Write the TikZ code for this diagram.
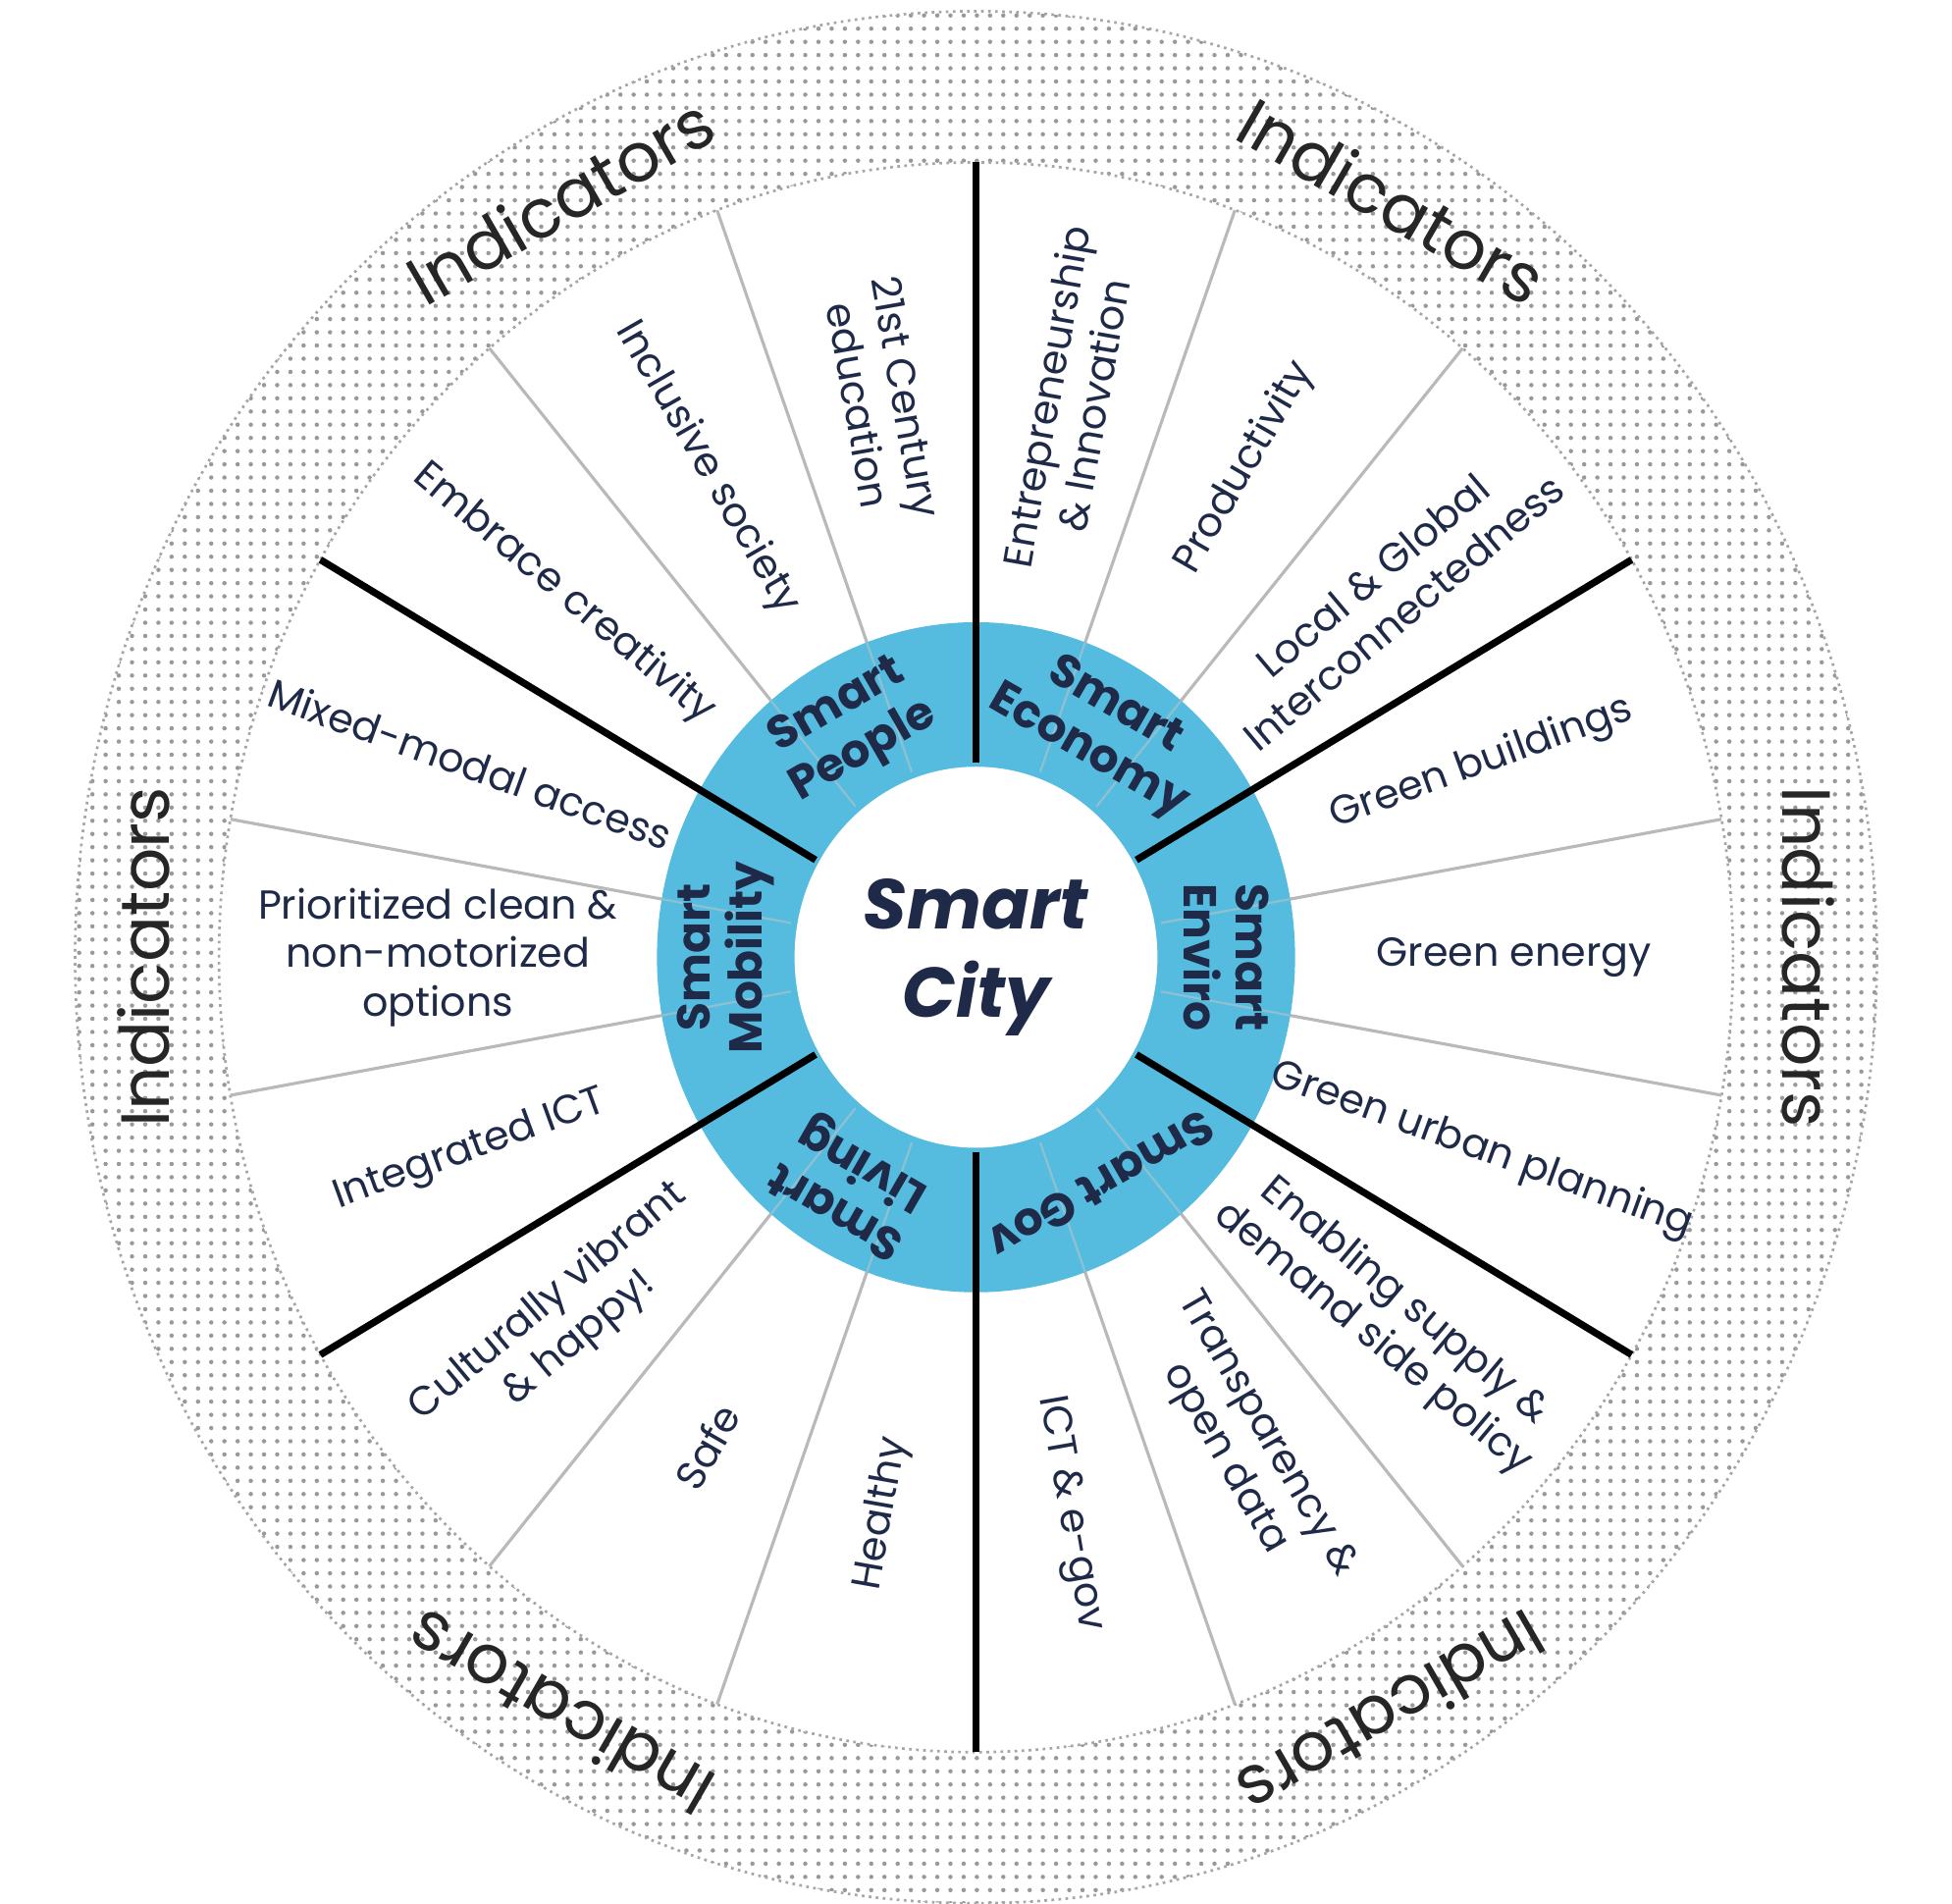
\documentclass[tikz,border=0pt]{standalone}
\usepackage{fontspec}
\setmainfont{Poppins}
\usetikzlibrary{patterns}
\definecolor{ringblue}{HTML}{55BCE0}
\definecolor{navy}{HTML}{1E2A48}
\tikzset{
  item/.style={font=\fontsize{9.2}{11}\selectfont, text=navy, align=center, inner sep=1pt},
  ringlbl/.style={font=\bfseries\fontsize{10.5}{12}\selectfont, text=navy, align=center, inner sep=1pt},
  indic/.style={font=\fontsize{15.5}{18}\selectfont, text=black!85, inner sep=1pt},
  thin/.style={draw=gray!55, line width=0.7pt},
  thick/.style={draw=black, line width=1.6pt},
  border/.style={draw=gray!70, densely dotted, line width=0.6pt}
}
\begin{document}
\begin{tikzpicture}[x=0.01cm,y=0.01cm]
\useasboundingbox (0,0) rectangle (1560,1521);
\begin{scope}[shift={(780,756)}, yscale=1.05]
  \fill[pattern=dots, pattern color=gray!80] (0,0) ellipse [x radius=720, y radius=720];
  \draw[border] (0,0) circle [radius=720];
  \fill[white] (0,0) circle [radius=605];
  \draw[border] (0,0) circle [radius=605];
  % thin dividers
  \foreach \a in {70,50,10,-10,-50,-70,-110,-130,170,190,110,130}{
    \coordinate (ti\a) at ({250*cos(\a)},{250*sin(\a)});
    \coordinate (to\a) at ({605*cos(\a)},{605*sin(\a)});
    \draw[thin] (ti\a) -- (to\a);
  }
  % ring
  \fill[ringblue] (0,0) circle [radius=255];
  \foreach \a in {70,50,10,-10,-50,-70,-110,-130,170,190,110,130}{
    \draw[ringblue!80!black!60, line width=0.5pt] ({150*cos(\a)},{150*sin(\a)}) -- ({255*cos(\a)},{255*sin(\a)});
  }
  \fill[white] (0,0) circle [radius=145];
  % thick dividers
  \foreach \a in {90,30,-30,-90,210,150}{
    \coordinate (bi\a) at ({148*cos(\a)},{148*sin(\a)});
    \coordinate (bo\a) at ({605*cos(\a)},{605*sin(\a)});
    \draw[thick] (bi\a) -- (bo\a);
  }
  \node[font=\bfseries\itshape\fontsize{16}{20}\selectfont, text=navy, align=center] (city) at (0,0) {Smart\\City};
  % ring labels
  \node[ringlbl, rotate=-30] (econ) at ({200*cos(60)},{200*sin(60)}) {Smart\\Economy};
  \node[ringlbl, rotate=-90] (env) at ({200*cos(0)},{200*sin(0)}) {Smart\\Enviro};
  \node[ringlbl, rotate=-150] (gov) at ({200*cos(-60)},{200*sin(-60)}) {Smart Gov};
  \node[ringlbl, rotate=150] (liv) at ({200*cos(-120)},{200*sin(-120)}) {Smart\\Living};
  \node[ringlbl, rotate=90] (mob) at ({200*cos(180)},{200*sin(180)}) {Smart\\Mobility};
  \node[ringlbl, rotate=30] (ppl) at ({200*cos(120)},{200*sin(120)}) {Smart\\People};
  % items
  \foreach \n/\a/\r/\t in {
    i1/80/0/{Entrepreneurship\\\& Innovation},
    i2/60/0/{Productivity},
    i3/40/0/{Local \& Global\\Interconnectedness},
    i4/20/0/{Green buildings},
    i5/0/0/{Green energy},
    i6/-20/0/{Green urban planning},
    i7/-40/0/{Enabling supply \&\\demand side policy},
    i8/-60/0/{Transparency \&\\open data},
    i9/-80/0/{ICT \& e-gov},
    i10/-100/180/{Healthy},
    i11/-120/180/{Safe},
    i12/-140/180/{Culturally vibrant\\\& happy!},
    i13/200/180/{Integrated ICT},
    i14/180/180/{Prioritized clean \&\\non-motorized\\options},
    i15/160/180/{Mixed-modal access},
    i16/140/180/{Embrace creativity},
    i17/120/180/{Inclusive society},
    i18/100/180/{21st Century\\education}}{
    \node[item, rotate=\a+\r] (\n) at ({430*cos(\a)},{430*sin(\a)}) {\t};
  }
  % indicators
  \foreach \n/\a in {d1/120,d2/60,d3/0,d4/-60,d5/-120,d6/180}{
    \node[indic, rotate=\a-90] (\n) at ({665*cos(\a)},{665*sin(\a)}) {Indicators};
  }
\end{scope}
\end{tikzpicture}
\end{document}
